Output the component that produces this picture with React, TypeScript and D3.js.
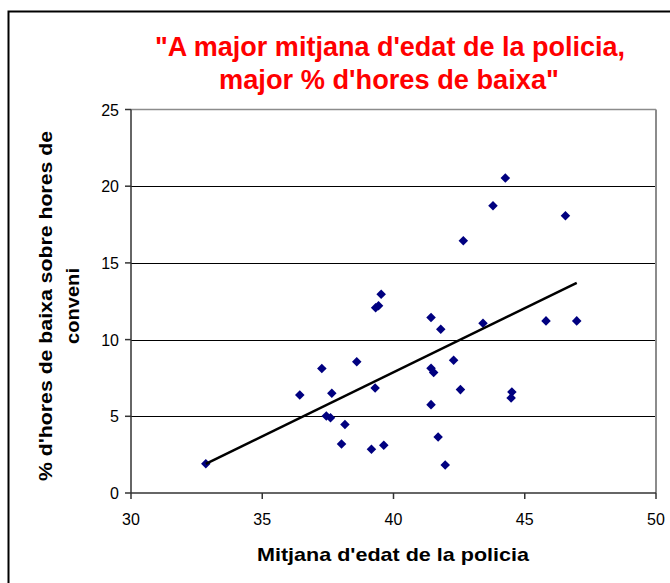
import React from "react";
import * as d3 from "d3";

const ageValues = [32.85, 36.43, 37.27, 37.44, 37.6, 37.65, 38.02, 38.15, 38.6, 39.16, 39.3, 39.32, 39.43, 39.53, 39.63, 41.43, 41.43, 41.53, 41.43, 41.7, 41.8, 41.97, 42.29, 42.55, 42.66, 43.41, 43.79, 44.26, 44.51, 44.48, 45.81, 46.55, 46.98];
const sickValues = [1.91, 6.39, 8.11, 5.02, 4.91, 6.5, 3.2, 4.46, 8.56, 2.85, 6.85, 12.07, 12.2, 12.96, 3.11, 11.44, 8.13, 7.85, 5.76, 3.65, 10.68, 1.83, 8.66, 6.74, 16.44, 11.07, 18.72, 20.53, 6.59, 6.2, 11.22, 18.07, 11.22];
const xTicks = [30, 35, 40, 45, 50];
const yTicks = [0, 5, 10, 15, 20, 25];
const titleLines = ['"A major mitjana d\'edat de la policia,', 'major % d\'hores de baixa"'];
const xTitle = "Mitjana d'edat de la policia";
const yTitleLines = ["% d'hores de baixa sobre hores de", "conveni"];

const W = 670;
const H = 583;
const plot = { left: 131, right: 656, top: 109.5, bottom: 493 };
const FONT = "'Liberation Sans', Arial, sans-serif";

export default function App() {
  const x = d3.scaleLinear().domain([30, 50]).range([plot.left, plot.right]);
  const y = d3.scaleLinear().domain([0, 25]).range([plot.bottom, plot.top]);
  const pts = ageValues.map((a, i) => [a, sickValues[i]] as [number, number]);
  const mx = d3.mean(ageValues)!;
  const my = d3.mean(sickValues)!;
  const sxy = d3.sum(pts, (p) => (p[0] - mx) * (p[1] - my));
  const sxx = d3.sum(pts, (p) => (p[0] - mx) ** 2);
  const slope = sxy / sxx;
  const icpt = my - slope * mx;
  const [x0, x1] = d3.extent(ageValues) as [number, number];
  const line = d3.line<number>().x((v) => x(v)).y((v) => y(icpt + slope * v));
  const diamond = d3.symbol().type(d3.symbolDiamond2).size(58)();

  return (
    <svg width={W} height={H} style={{ display: "block", position: "absolute", left: 0, top: 0, background: "#fff" }}>
      <rect x={8.5} y={11.5} width={W + 10} height={H + 10} fill="#fff" stroke="#000" strokeWidth={2} />
      <g fontFamily={FONT} fontWeight="bold" fill="#ff0000" fontSize={27} textAnchor="middle">
        <text x={390} y={56} textLength={470} lengthAdjust="spacingAndGlyphs">{titleLines[0]}</text>
        <text x={389} y={89} textLength={340} lengthAdjust="spacingAndGlyphs">{titleLines[1]}</text>
      </g>
      {/* gridlines */}
      {yTicks.filter((t) => t > 0 && t < 25).map((t) => (
        <line key={t} x1={plot.left} x2={plot.right} y1={Math.round(y(t)) + 0.5} y2={Math.round(y(t)) + 0.5} stroke="#000" strokeWidth={1} />
      ))}
      {/* plot border top/right */}
      <line x1={plot.left} x2={plot.right} y1={plot.top} y2={plot.top} stroke="#8c8c8c" strokeWidth={1.5} />
      <line x1={plot.right} x2={plot.right} y1={plot.top} y2={plot.bottom} stroke="#8c8c8c" strokeWidth={2} />
      {/* axes */}
      <line x1={plot.left} x2={plot.left} y1={plot.top} y2={plot.bottom} stroke="#333" strokeWidth={1.5} />
      <line x1={plot.left} x2={plot.right} y1={plot.bottom} y2={plot.bottom} stroke="#333" strokeWidth={1.5} />
      {yTicks.map((t) => (
        <g key={t}>
          <line x1={plot.left - 6} x2={plot.left} y1={y(t)} y2={y(t)} stroke="#333" strokeWidth={1.5} />
          <text x={plot.left - 12} y={y(t) + 6} textAnchor="end" fontFamily={FONT} fontSize={16} fill="#000">{t}</text>
        </g>
      ))}
      {xTicks.map((t) => (
        <g key={t}>
          <line x1={x(t)} x2={x(t)} y1={plot.bottom} y2={plot.bottom + 6} stroke="#333" strokeWidth={1.5} />
          <text x={x(t)} y={plot.bottom + 32} textAnchor="middle" fontFamily={FONT} fontSize={16} fill="#000">{t}</text>
        </g>
      ))}
      {/* points */}
      {pts.map((p, i) => (
        <path key={i} d={diamond} transform={`translate(${x(p[0])},${y(p[1])})`} fill="#000080" />
      ))}
      {/* trendline */}
      <path d={line([x0, x1]) || ""} stroke="#000" strokeWidth={2.5} fill="none" />
      <text x={393} y={561} textAnchor="middle" fontFamily={FONT} fontWeight="bold" fontSize={19} fill="#000" textLength={272} lengthAdjust="spacingAndGlyphs">{xTitle}</text>
      <g transform="translate(0,306) rotate(-90)" fontFamily={FONT} fontWeight="bold" fontSize={19} fill="#000" textAnchor="middle">
        <text x={0} y={52} textLength={350} lengthAdjust="spacingAndGlyphs">{yTitleLines[0]}</text>
        <text x={0} y={79} textLength={76} lengthAdjust="spacingAndGlyphs">{yTitleLines[1]}</text>
      </g>
    </svg>
  );
}
